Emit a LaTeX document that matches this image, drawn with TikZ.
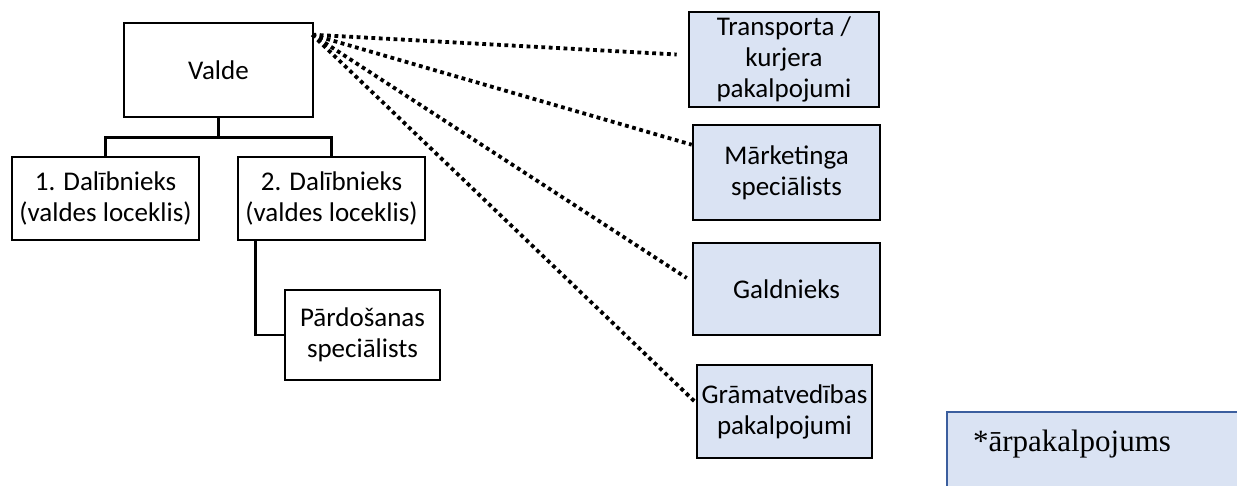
\documentclass[tikz,border=0pt]{standalone}
\usepackage{fontspec}
\usetikzlibrary{calc}
\setmainfont{Carlito}
\newfontfamily\serifface{Liberation Serif}
\definecolor{boxfill}{HTML}{DAE3F3}
\definecolor{boxblue}{HTML}{3B5E9E}
\tikzset{
  orgbox/.style={draw=black, line width=2.6pt, fill=white, rectangle, align=center,
    inner sep=0pt, font=\fontsize{27}{31}\selectfont},
  outbox/.style={orgbox, fill=boxfill},
  treeline/.style={draw=black, line width=2.6pt},
  dotline/.style={draw=black, line width=3.8pt, dash pattern=on 3.8pt off 3.6pt},
}
\begin{document}
\begin{tikzpicture}[x=1pt,y=-1pt]
\useasboundingbox (0,0) rectangle (1237,486);
% internal hierarchy
\node[orgbox, minimum width=189pt, minimum height=94pt] (valde) at (218.5,70) {Valde};
\node[orgbox, minimum width=187pt, minimum height=83pt] (d1) at (105.5,198.5) {1. Dalībnieks\\(valdes loceklis)};
\node[orgbox, minimum width=187pt, minimum height=83pt] (d2) at (331.5,198.5) {2. Dalībnieks\\(valdes loceklis)};
\node[orgbox, minimum width=155pt, minimum height=90pt] (pard) at (362.5,335) {Pārdošanas\\speciālists};
% outsourced
\node[outbox, minimum width=190pt, minimum height=95pt] (trans) at (784,59.5) {Transporta /\\kurjera\\pakalpojumi};
\node[outbox, minimum width=187pt, minimum height=95pt] (mark) at (786.5,172.5) {Mārketinga\\speciālists};
\node[outbox, minimum width=187pt, minimum height=92pt] (gald) at (786.5,289) {Galdnieks};
\node[outbox, minimum width=175pt, minimum height=93pt] (gram) at (784.5,411.5) {Grāmatvedības\\pakalpojumi};
% legend box (cut by the page edge)
\fill[boxfill] (947,412) rectangle (1240,490);
\draw[boxblue, line width=2.2pt] (947,490) -- (947,412) -- (1240,412);
\node[font=\serifface\fontsize{31}{33}\selectfont, inner sep=0pt] (legend) at (1072,444) {*ārpakalpojums};
% tree connectors
\coordinate (bar) at ($(valde.south)+(0,19)$);
\draw[treeline] (valde.south) -- (bar) -| (d1.north);
\draw[treeline] (bar) -| (d2.north);
\draw[treeline] ($(d2.south west)+(19,0)$) |- (pard.west);
% dotted connectors
\coordinate (src) at ($(valde.north east)+(-2,13)$);
\draw[dotline] (src) -- ($(trans.west)+(-11,-5)$);
\draw[dotline] (src) -- ($(mark.north west)+(0,21)$);
\draw[dotline] (src) -- ($(gald.west)+(-5,-11)$);
\draw[dotline] (src) -- ($(gram.west)+(0,-9)$);
\end{tikzpicture}
\end{document}
